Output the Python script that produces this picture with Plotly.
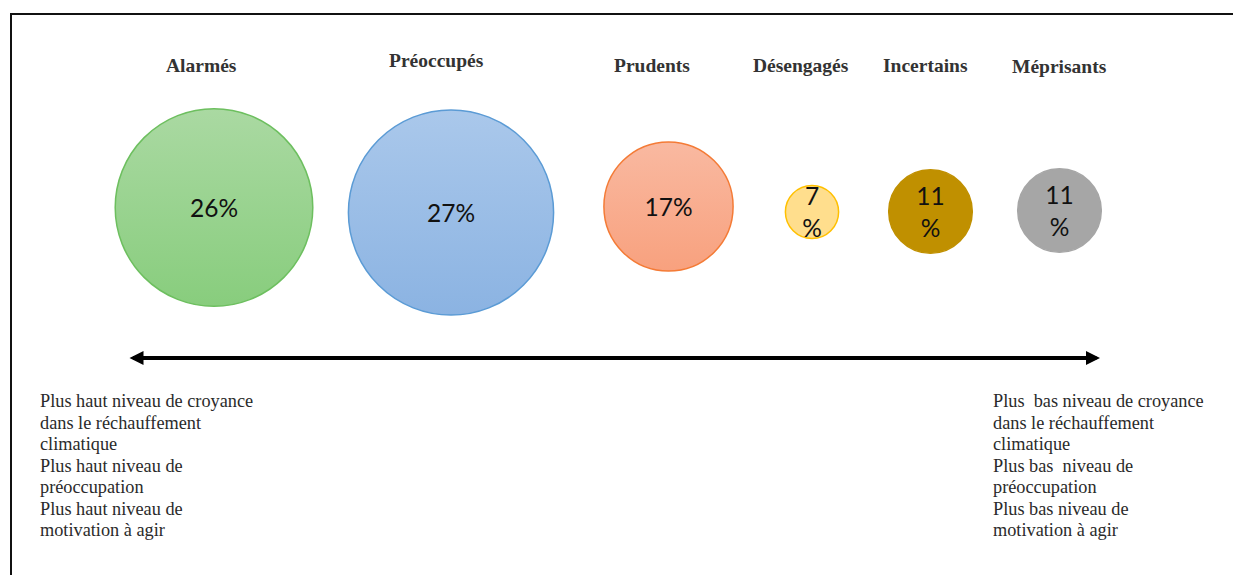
import plotly.graph_objects as go

# ---- data ----
categories = ["Alarmés", "Préoccupés", "Prudents", "Désengagés", "Incertains", "Méprisants"]
percentages = [26, 27, 17, 7, 11, 11]

left_lines = [
    "Plus haut niveau de croyance",
    "dans le réchauffement",
    "climatique",
    "Plus haut niveau de",
    "préoccupation",
    "Plus haut niveau de",
    "motivation à agir",
]
right_lines = [
    "Plus\u00a0 bas niveau de croyance",
    "dans le réchauffement",
    "climatique",
    "Plus bas\u00a0 niveau de",
    "préoccupation",
    "Plus bas niveau de",
    "motivation à agir",
]

# ---- layout constants (pixel-like coordinates) ----
W, H = 1233, 575
x_centre = [214, 451, 668.5, 812, 930.5, 1059.5]
y_centre = [207.5, 212.5, 206.5, 212, 211.5, 210.5]
text_dy = 3
label_x = [201.5, 436, 652, 801, 925.5, 1059]
label_y = [65.5, 60.5, 65, 65, 65, 66]
px_per_pct = 7.6

fill_top = ["#AAD9A2", "#AAC8EB", "#F9B9A1", "#FFDE8D", "#C09000", "#A6A6A6"]
fill_bot = ["#88CD7D", "#8BB3E2", "#F8A17E", "#FFDE8D", "#C09000", "#A6A6A6"]
edge = ["#6DBF5F", "#5B9BD5", "#F47B36", "#FFC000", "#C09000", "#A6A6A6"]

fig = go.Figure()
for i, (cat, v) in enumerate(zip(categories, percentages)):
    fig.add_trace(go.Scatter(
        x=[x_centre[i]], y=[y_centre[i]],
        mode="markers",
        marker=dict(
            size=[v], sizemode="diameter", sizeref=1 / px_per_pct,
            color=fill_top[i], opacity=1,
            gradient=dict(type="vertical", color=fill_bot[i]),
            line=dict(color=edge[i], width=1.5),
        ),
        name=cat, showlegend=False, hoverinfo="skip",
    ))

# percentage labels inside the circles
fig.add_trace(go.Scatter(
    x=x_centre, y=[yc + text_dy for yc in y_centre],
    mode="text",
    text=[f"{v}%" if v > 15 else f"{v}<br>%" for v in percentages],
    textposition="middle center",
    textfont=dict(family="Lato, Carlito, sans-serif", size=24.5, color="#111111"),
    showlegend=False, hoverinfo="skip",
))

annotations = []
for i, cat in enumerate(categories):
    annotations.append(dict(
        x=label_x[i], y=label_y[i], xref="x", yref="y", text=f"<b>{cat}</b>", showarrow=False,
        font=dict(family="Liberation Serif, serif", size=19.5, color="#333333"),
        xanchor="center", yanchor="middle",
    ))

line_step = 21.5
body_font = dict(family="Liberation Serif, serif", size=18.3, color="#2a2a2a")
for j, t in enumerate(left_lines):
    annotations.append(dict(
        x=38, y=401 + j * line_step, xref="x", yref="y", text=t, showarrow=False,
        font=body_font, xanchor="left", yanchor="middle",
    ))
for j, t in enumerate(right_lines):
    annotations.append(dict(
        x=991, y=401 + j * line_step, xref="x", yref="y", text=t, showarrow=False,
        font=body_font, xanchor="left", yanchor="middle",
    ))

# double-headed arrow
annotations.append(dict(
    x=1100, y=358, ax=128, ay=358, xref="x", yref="y", axref="x", ayref="y",
    text="", showarrow=True, arrowside="end+start", arrowhead=2,
    arrowsize=0.7, arrowwidth=4, arrowcolor="#000000",
))

shapes = [
    dict(type="line", xref="x", yref="y", x0=11, x1=11, y0=13, y1=H + 5,
         line=dict(color="#111111", width=2)),
    dict(type="line", xref="x", yref="y", x0=10, x1=W + 5, y0=14, y1=14,
         line=dict(color="#111111", width=2)),
]

fig.update_layout(
    width=W, height=H,
    margin=dict(l=0, r=0, t=0, b=0),
    paper_bgcolor="white", plot_bgcolor="white",
    xaxis=dict(range=[0, W], visible=False, fixedrange=True),
    yaxis=dict(range=[H, 0], visible=False, fixedrange=True),
    annotations=annotations,
    shapes=shapes,
)

fig.write_html("out.html", config={"displayModeBar": False},
               post_script="document.body.style.margin='0';")
